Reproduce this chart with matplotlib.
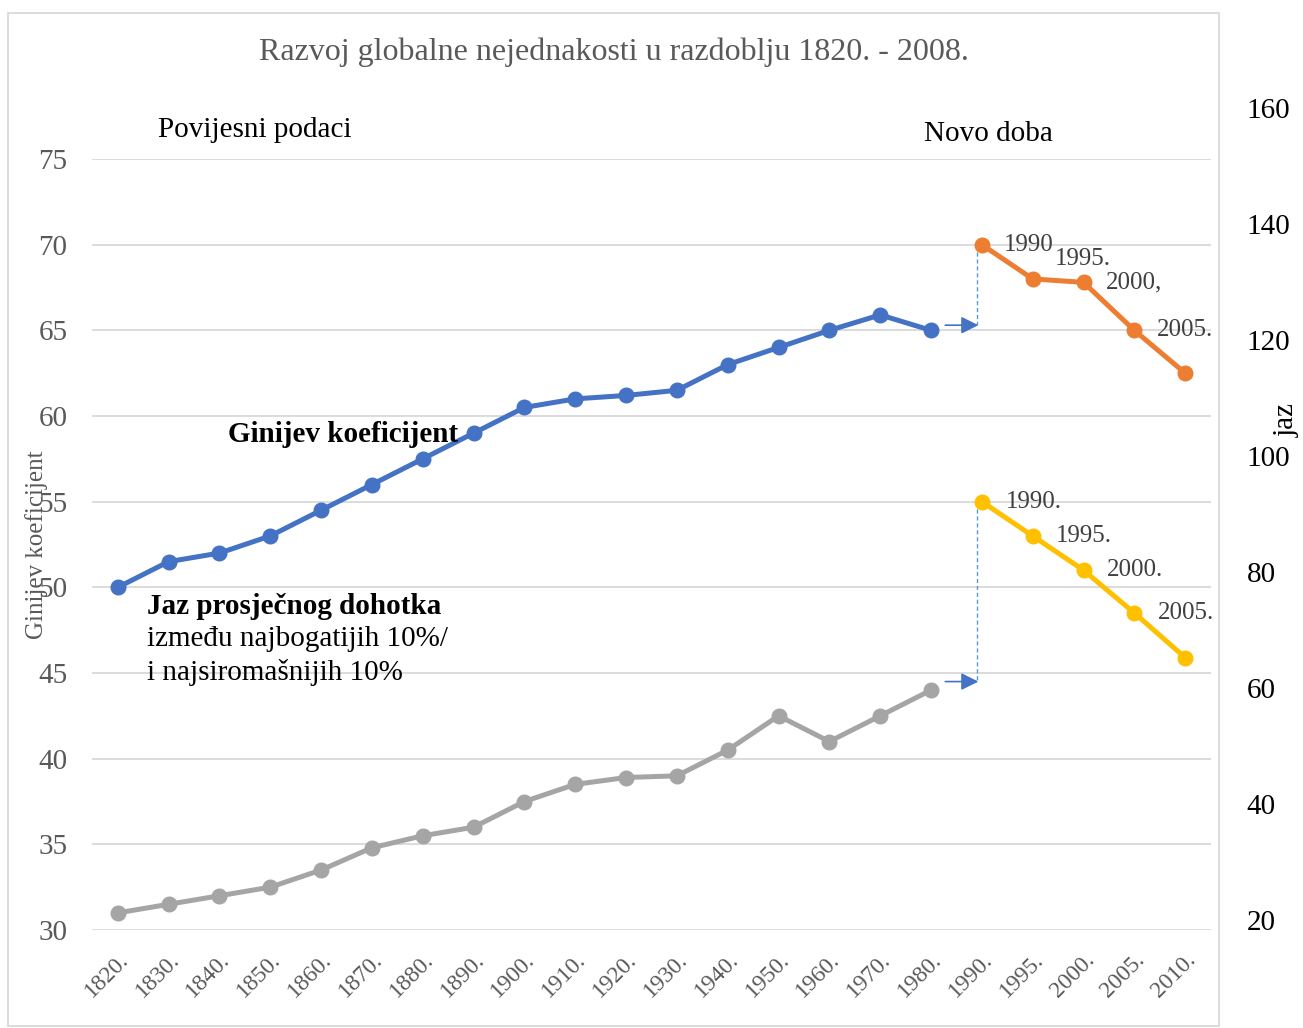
import matplotlib
matplotlib.use("Agg")
import matplotlib.pyplot as plt
from matplotlib.patches import Rectangle

plt.rcParams['font.family'] = ['Liberation Serif', 'DejaVu Serif']

categories = ['1820.', '1830.', '1840.', '1850.', '1860.', '1870.', '1880.', '1890.',
              '1900.', '1910.', '1920.', '1930.', '1940.', '1950.', '1960.', '1970.',
              '1980.', '1990.', '1995.', '2000.', '2005.', '2010.']

gini_hist = [50, 51.5, 52, 53, 54.5, 56, 57.5, 59, 60.5, 61, 61.2, 61.5, 63, 64, 65, 65.9, 65]
gini_new = [70, 68, 67.8, 65, 62.5]
gap_hist = [31, 31.5, 32, 32.5, 33.5, 34.8, 35.5, 36, 37.5, 38.5, 38.9, 39, 40.5, 42.5, 41, 42.5, 44]
gap_new = [55, 53, 51, 48.5, 45.9]
gini_new_labels = ['1990', '1995.', '2000,', '2005.']
gap_new_labels = ['1990.', '1995.', '2000.', '2005.']
right_ticks = [20, 40, 60, 80, 100, 120, 140, 160]

W, H = 1303, 1028
fig = plt.figure(figsize=(W / 100, H / 100), dpi=100)

def fx(px):
    return px / W

def fy(py):
    return 1 - py / H

# chart border
fig.patches.append(Rectangle((fx(8), fy(1026)), fx(1219) - fx(8), fy(13) - fy(1026),
                             transform=fig.transFigure, fill=False,
                             edgecolor='#D9D9D9', linewidth=1.3))

ax = fig.add_axes([fx(92.4), fy(930), fx(1210.6) - fx(92.4), fy(159) - fy(930)])
n = len(categories)
xh = list(range(len(gini_hist)))
xn = list(range(len(gini_hist), n))

ax.plot(xh, gini_hist, color='#4472C4', lw=3.6, marker='o', ms=10.5, zorder=3)
ax.plot(xn, gini_new, color='#ED7D31', lw=3.6, marker='o', ms=10.5, zorder=3)
ax.plot(xh, gap_hist, color='#A5A5A5', lw=3.6, marker='o', ms=10.5, zorder=3)
ax.plot(xn, gap_new, color='#FFC000', lw=3.6, marker='o', ms=10.5, zorder=3)

ax.set_xlim(-0.5, n - 0.5)
ax.set_ylim(30, 75)
ax.set_yticks(range(30, 76, 5))
ax.set_xticks(range(n))
ax.set_xticklabels(categories, rotation=45, ha='right', rotation_mode='anchor',
                   fontsize=17, color='#595959')
ax.tick_params(axis='x', length=0, pad=14)
ax.tick_params(axis='y', length=0, pad=18, labelsize=21, labelcolor='#595959')
ax.grid(axis='y', color='#D9D9D9', lw=1.3)
ax.set_axisbelow(True)
for s in ax.spines.values():
    s.set_visible(False)
ax.set_ylabel('Ginijev koeficijent', fontsize=18, color='#595959')
ax.yaxis.set_label_coords(-0.04, 0.5)

# data labels
for i, lab in enumerate(gini_new_labels):
    dy = 14 if i == 1 else 0
    ax.annotate(lab, (xn[i], gini_new[i]), xytext=(16, dy), textcoords='offset points',
                ha='left', va='center', fontsize=18, color='#404040')
for i, lab in enumerate(gap_new_labels):
    ax.annotate(lab, (xn[i], gap_new[i]), xytext=(17, 0), textcoords='offset points',
                ha='left', va='center', fontsize=18, color='#404040')

# connector arrows and dashed lines
for y_from, y_to in [(gini_new[0], 65.3), (gap_new[0], 44.5)]:
    ax.plot([16.9, 16.9], [y_from, y_to], color='#5B9BD5', lw=1, ls=(0, (3, 2)), zorder=2)
    ax.annotate('', xy=(16.93, y_to), xytext=(16.28, y_to),
                arrowprops=dict(arrowstyle='-|>', color='#4472C4', lw=1.2,
                                mutation_scale=26, shrinkA=0, shrinkB=0))

# text annotations
fig.text(fx(614), fy(52), 'Razvoj globalne nejednakosti u razdoblju 1820. - 2008.',
         ha='center', va='center', fontsize=23, color='#595959')
fig.text(fx(158), fy(130), 'Povijesni podaci', ha='left', va='center', fontsize=21)
fig.text(fx(924), fy(134), 'Novo doba', ha='left', va='center', fontsize=21)
fig.text(fx(228), fy(434), 'Ginijev koeficijent', ha='left', va='center', fontsize=21,
         fontweight='bold')
fig.text(fx(147), fy(606), 'Jaz prosječnog dohotka', ha='left', va='center', fontsize=21,
         fontweight='bold')
fig.text(fx(147), fy(639), 'između najbogatijih 10%/', ha='left', va='center', fontsize=21)
fig.text(fx(147), fy(672), 'i najsiromašnijih 10%', ha='left', va='center', fontsize=21)

# right axis (jaz)
ax2 = fig.add_axes([fx(92.4), fy(920), fx(1210.6) - fx(92.4), fy(108) - fy(920)])
ax2.patch.set_visible(False)
ax2.set_ylim(20, 160)
ax2.set_xticks([])
ax2.yaxis.tick_right()
ax2.set_yticks(right_ticks)
ax2.tick_params(axis='y', length=0, pad=26, labelsize=21, labelcolor='black')
for s in ax2.spines.values():
    s.set_visible(False)
fig.text(fx(1287), fy(420), 'jaz', rotation=90, ha='center', va='center', fontsize=21)

fig.savefig('out.png', dpi=100)
